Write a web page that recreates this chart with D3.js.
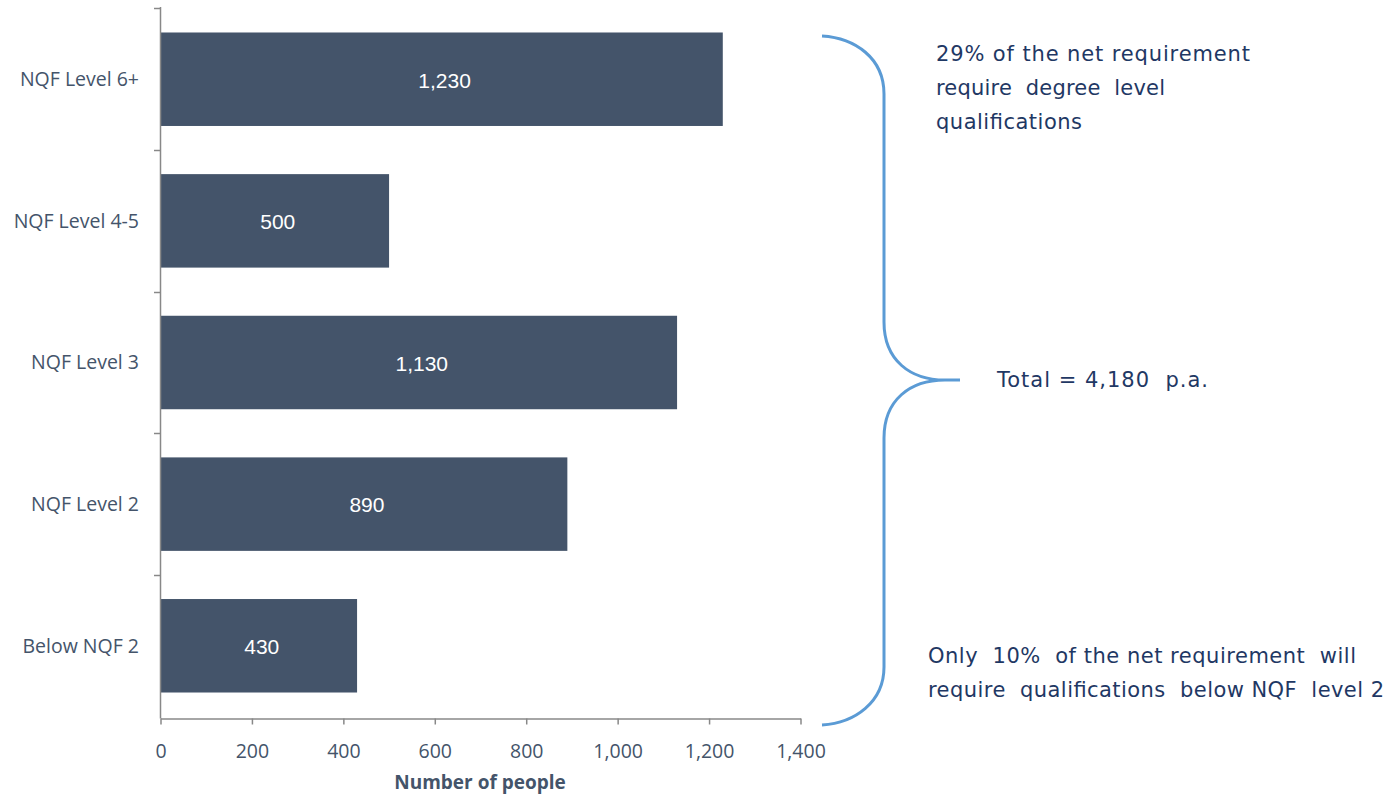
<!DOCTYPE html>
<html><head><meta charset="utf-8">
<script src="https://cdn.jsdelivr.net/npm/d3@7"></script>
<style>body{margin:0;background:#fff}svg{display:block}</style>
</head><body>
<svg id="c" width="1393" height="795"></svg>
<script>
const categories = ["NQF Level 6+", "NQF Level 4-5", "NQF Level 3", "NQF Level 2", "Below NQF 2"];
const values = [1230, 500, 1130, 890, 430];
const xTicks = [0, 200, 400, 600, 800, 1000, 1200, 1400];
const xTitle = "Number of people";
const notesTop = ["29% of the net requirement", "require  degree  level", "qualifications"];
const noteTotal = "Total = 4,180  p.a.";
const notesBottom = ["Only  10%  of the net requirement  will", "require  qualifications  below NQF  level 2"];

const svg = d3.select("#c");
const axisColor = "#888";
const textColor = "#44546a";
const axisFont = "'Open Sans', 'Noto Sans', sans-serif";
const x = d3.scaleLinear().domain([0, 1400]).range([160.5, 800.5]);
const y = d3.scaleBand().domain(categories).range([7, 718]).paddingInner(0.34).paddingOuter(0.18);
const step = y.step();

// bars
svg.selectAll("rect.bar").data(values).join("rect")
  .attr("x", x(0)).attr("y", (d, i) => y(categories[i]))
  .attr("width", d => x(d) - x(0)).attr("height", y.bandwidth())
  .attr("fill", "#44546a");

svg.selectAll("text.val").data(values).join("text")
  .attr("x", d => (x(0) + x(d)) / 2 + 3).attr("y", (d, i) => y(categories[i]) + y.bandwidth() / 2 + 1)
  .attr("dy", "0.35em").attr("text-anchor", "middle")
  .attr("font-family", "'Liberation Sans', Arial, sans-serif").attr("font-size", 21)
  .attr("fill", "#fff").text(d => d3.format(",")(d));

// y axis
const yb = y.range()[1];
svg.append("line").attr("x1", 160.5).attr("x2", 160.5).attr("y1", 7).attr("y2", yb + 0.5)
  .attr("stroke", axisColor).attr("stroke-width", 1.5);
const bounds = categories.map(c => y(c) - step * y.paddingInner() / 2);
svg.selectAll("line.yt").data(bounds).join("line")
  .attr("x1", 154).attr("x2", 160.5).attr("y1", d => Math.round(d) + 0.5).attr("y2", d => Math.round(d) + 0.5)
  .attr("stroke", axisColor).attr("stroke-width", 1.5);
svg.selectAll("text.cat").data(categories).join("text")
  .attr("x", 139).attr("y", d => y(d) + y.bandwidth() / 2).attr("dy", "0.35em")
  .attr("text-anchor", "end").attr("font-family", axisFont).attr("font-size", 19.5)
  .attr("fill", textColor).text(d => d);

// x axis
const xAxisG = svg.append("g").attr("transform", `translate(0,${yb + 0.5})`)
  .call(d3.axisBottom(x).tickValues(xTicks).tickSize(6).tickSizeOuter(0).tickFormat(d3.format(",")));
xAxisG.select(".domain").attr("stroke", axisColor).attr("stroke-width", 1.5);
xAxisG.selectAll(".tick line").attr("stroke", axisColor).attr("stroke-width", 1.5);
xAxisG.selectAll(".tick text").attr("font-family", axisFont).attr("font-size", 19.5)
  .attr("fill", textColor).attr("dy", "0").attr("y", 39);
svg.append("text").attr("x", 480).attr("y", 789).attr("text-anchor", "middle")
  .attr("font-family", axisFont).attr("font-size", 19).attr("font-weight", "bold")
  .attr("fill", textColor).text(xTitle);

// brace
const bx = 884, tipX = 945, midY = 380, r = 58;
const bracePath = `M822,36 C855,38 ${bx},58 ${bx},${36 + r}` +
  ` L${bx},${midY - r} C${bx},${midY - 20} ${tipX - 35},${midY} ${tipX},${midY} L960,${midY}` +
  ` M${tipX},${midY} C${tipX - 35},${midY} ${bx},${midY + 20} ${bx},${midY + r}` +
  ` L${bx},${725 - r} C${bx},${702} 855,${723} 822,725`;
svg.append("path").attr("d", bracePath).attr("fill", "none").attr("stroke", "#5b9bd5").attr("stroke-width", 3);

// annotations
const noteColor = "#1f3864";
const noteFont = "'DejaVu Sans', Verdana, sans-serif";
function fit(sel) {
  // widen letter spacing so each line spans its reference width
  sel.each(function(d) {
    const el = d3.select(this);
    const w = this.getComputedTextLength();
    const target = +el.attr("data-w");
    if (target && w > 0) el.attr("textLength", target).attr("lengthAdjust", "spacing");
  });
}
const topW = [314, 229, 146];
svg.append("g").selectAll("text").data(notesTop).join("text")
  .attr("x", 936).attr("y", (d, i) => 61 + i * 34).attr("font-family", noteFont).attr("font-size", 21)
  .attr("fill", noteColor).style("white-space", "pre").attr("data-w", (d, i) => topW[i]).text(d => d).call(fit);
svg.append("text").attr("x", 997).attr("y", 387).attr("font-family", noteFont).attr("font-size", 21)
  .attr("fill", noteColor).style("white-space", "pre").attr("data-w", 211).text(noteTotal).call(fit);
const botW = [428, 456];
svg.append("g").selectAll("text").data(notesBottom).join("text")
  .attr("x", 928).attr("y", (d, i) => 663 + i * 34).attr("font-family", noteFont).attr("font-size", 21)
  .attr("fill", noteColor).style("white-space", "pre").attr("data-w", (d, i) => botW[i]).text(d => d).call(fit);
</script>
</body></html>
